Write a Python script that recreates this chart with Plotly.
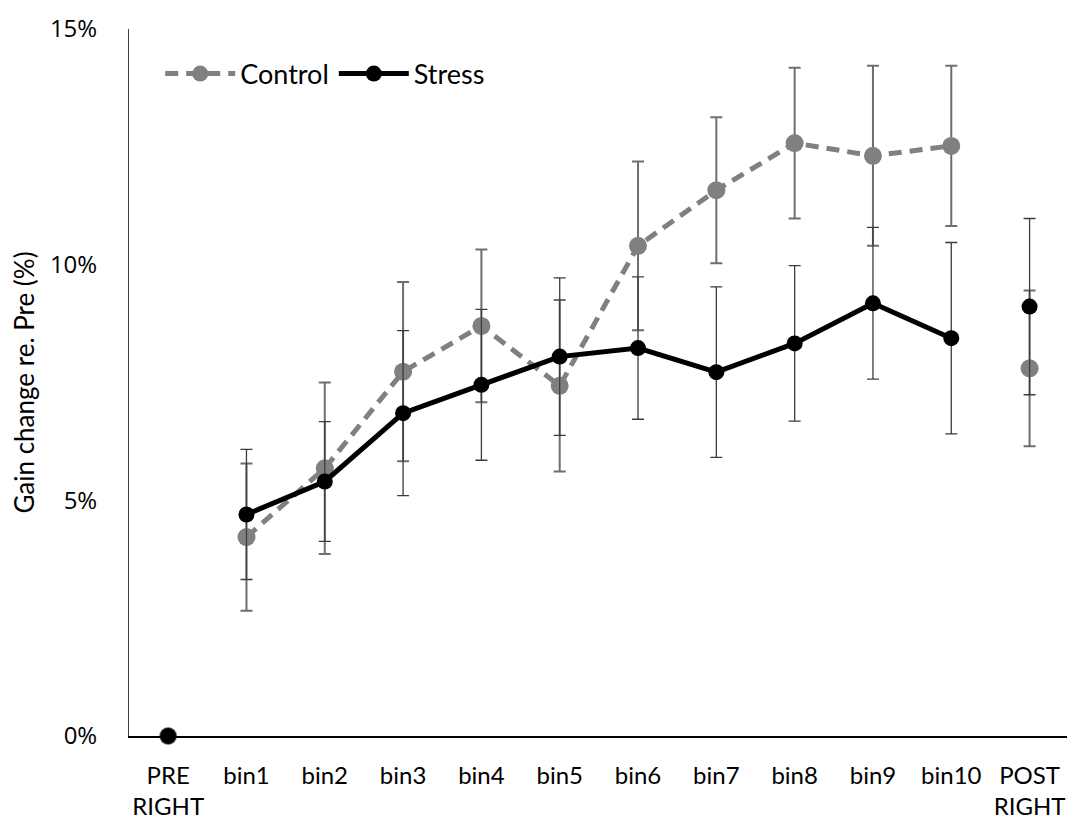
import plotly.graph_objects as go

categories = ["PRE<br>RIGHT", "bin1", "bin2", "bin3", "bin4", "bin5", "bin6",
              "bin7", "bin8", "bin9", "bin10", "POST<br>RIGHT"]
control = [0, 4.22, 5.68, 7.73, 8.70, 7.43, 10.40, 11.58, 12.58, 12.31, 12.52, 7.80]
control_err = [0, 1.56, 1.82, 1.90, 1.62, 1.82, 1.79, 1.55, 1.60, 1.91, 1.70, 1.65]
stress = [0, 4.70, 5.40, 6.85, 7.45, 8.05, 8.23, 7.72, 8.33, 9.18, 8.44, 9.11]
stress_err = [0, 1.38, 1.27, 1.75, 1.60, 1.67, 1.51, 1.81, 1.65, 1.61, 2.03, 1.87]
y_ticks = [0, 5, 10, 15]
y_tick_labels = ["0%", "5%", "10%", "15%"]

GRAY = "#808080"
BLACK = "#000000"
FONT = "Lato"

fig = go.Figure()

def add_series(name, vals, errs, color, dash, lw, msize, ecolor, ethick):
    mid = slice(1, 11)
    fig.add_trace(go.Scatter(
        x=categories[mid], y=vals[mid], name=name, mode="lines+markers",
        line=dict(color=color, width=lw, dash=dash),
        marker=dict(color=color, size=msize),
        error_y=dict(type="data", array=errs[mid], visible=True,
                     color=ecolor, thickness=ethick, width=6),
        cliponaxis=False, legendgroup=name,
    ))
    ends = [0, 11]
    fig.add_trace(go.Scatter(
        x=[categories[i] for i in ends], y=[vals[i] for i in ends],
        mode="markers", showlegend=False, legendgroup=name,
        marker=dict(color=color, size=msize),
        error_y=dict(type="data", array=[errs[i] for i in ends], visible=True,
                     color=ecolor, thickness=ethick, width=6),
        cliponaxis=False,
    ))

add_series("Control", control, control_err, GRAY, "13px,8px", 5, 18, "#6e6e6e", 2)
add_series("Stress", stress, stress_err, BLACK, "solid", 5, 16, "#3c3c3c", 1.3)

fig.update_layout(
    width=1067, height=815,
    margin=dict(l=121, r=0, t=21, b=87),
    paper_bgcolor="white", plot_bgcolor="white",
    font=dict(family=FONT, size=24, color="#000000"),
    showlegend=True,
    legend=dict(orientation="h", x=0.033, y=0.971, xanchor="left", yanchor="top",
                font=dict(family=FONT, size=27, color="#000000"),
                bgcolor="rgba(0,0,0,0)", tracegroupgap=0, itemwidth=70),
    xaxis=dict(type="category", categoryorder="array", categoryarray=categories,
               range=[-0.5, 11.58], showgrid=False, zeroline=False,
               showline=True, linecolor="#000000", linewidth=1.5,
               ticks="", ticklabelstandoff=17,
               tickfont=dict(family=FONT, size=24, color="#000000")),
    yaxis=dict(range=[0, 15], tickmode="array", tickvals=y_ticks, ticktext=y_tick_labels,
               showgrid=False, zeroline=False, showline=True,
               linecolor="#404040", linewidth=1, ticks="",
               ticklabelstandoff=26,
               tickfont=dict(family="Open Sans", size=24, color="#000000"),
               title=dict(text="Gain change re. Pre (%)", standoff=10,
                          font=dict(family=FONT, size=26, color="#000000"))),
)

fig.write_html("out.html")
